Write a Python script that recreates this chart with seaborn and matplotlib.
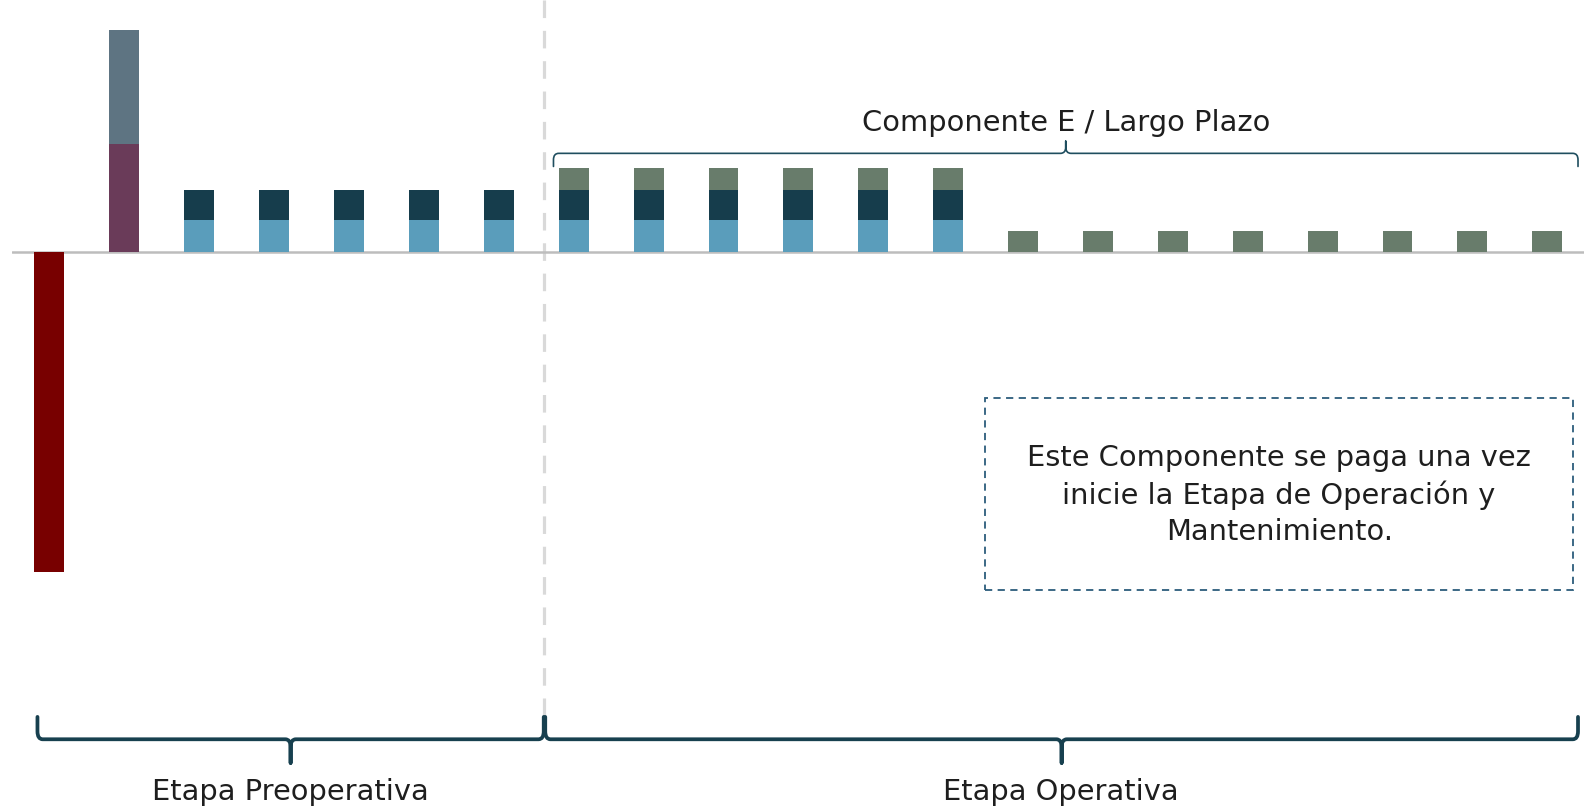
import numpy as np
import matplotlib
matplotlib.use("Agg")
import matplotlib.pyplot as plt
from matplotlib.path import Path
from matplotlib.patches import PathPatch, Rectangle
import seaborn as sns

# periods 0..20
periods = list(range(21))
inversion = [-10.0] + [0] * 20
comp_a = [0, 3.4] + [0] * 19
comp_b = [0, 3.55] + [0] * 19
comp_c = [0, 0] + [1.0] * 11 + [0] * 8
comp_d = [0, 0] + [0.95] * 11 + [0] * 8
comp_e = [0] * 7 + [0.7] * 6 + [0.66] * 8

c_red = "#780000"
c_purple = "#6A3B59"
c_slate = "#5E7482"
c_light = "#5A9DBB"
c_navy = "#163D4C"
c_green = "#687C6B"
c_text = "#1E1E1E"

sns.set_style("white")
plt.rcParams["font.family"] = ["DejaVu Sans"]

fig = plt.figure(figsize=(15.84, 8.07), dpi=100)
ax = fig.add_axes([12 / 1584, 0, 1572 / 1584, 1])

a = np.array(comp_a)
b = np.array(comp_b)
c = np.array(comp_c)
d = np.array(comp_d)
e = np.array(comp_e)

# stacked: draw cumulative totals from the top layer down
layers = [
    (a + b, c_slate),
    (a, c_purple),
    (c + d + e, c_green),
    (c + d, c_navy),
    (c, c_light),
    (np.array(inversion), c_red),
]
for vals, col in layers:
    sns.barplot(x=periods, y=vals, color=col, saturation=1, width=0.4,
                linewidth=0, errorbar=None, ax=ax)

ax.axhline(0, color="#BDBDBD", lw=1.8, zorder=0.5)
ax.plot([6.6, 6.6], [7.9, -14.48], color="#D9D9D9", lw=2.3,
        dashes=(5.5, 4), zorder=0.4)

ax.set_xlim(-0.5, 20.49)
ax.set_ylim(-17.36, 7.9)
ax.axis("off")


def brace(x0, x1, y, end, tip, lw, color, rx=0.07, ry=0.25):
    xm = (x0 + x1) / 2
    s = 1 if end > y else -1
    verts = [(x0, end), (x0, y + s * ry), (x0, y), (x0 + rx, y),
             (xm - rx, y), (xm, y), (xm, y - s * ry), (xm, tip),
             (xm, y - s * ry), (xm, y), (xm + rx, y),
             (x1 - rx, y), (x1, y), (x1, y + s * ry), (x1, end)]
    codes = [Path.MOVETO, Path.LINETO, Path.CURVE3, Path.CURVE3,
             Path.LINETO, Path.CURVE3, Path.CURVE3, Path.LINETO,
             Path.LINETO, Path.CURVE3, Path.CURVE3,
             Path.LINETO, Path.CURVE3, Path.CURVE3, Path.LINETO]
    ax.add_patch(PathPatch(Path(verts, codes), fill=False, lw=lw,
                           edgecolor=color, capstyle="round",
                           joinstyle="round", zorder=3))


brace(-0.16, 6.6, -15.24, -14.54, -15.98, 2.7, "#17404F")
brace(6.62, 20.41, -15.24, -14.54, -15.98, 2.7, "#17404F")
brace(6.73, 20.41, 3.10, 2.69, 3.48, 1.2, "#1F4E5F", ry=0.2)

fs = 20.8
ax.text(3.22, -16.88, "Etapa Preoperativa", ha="center", va="center",
        fontsize=fs, color=c_text)
ax.text(13.5, -16.88, "Etapa Operativa", ha="center", va="center",
        fontsize=fs, color=c_text)
ax.text(13.57, 4.05, "Componente E / Largo Plazo", ha="center",
        va="center", fontsize=fs, color=c_text)

ax.add_patch(Rectangle((12.49, -10.56), 20.34 - 12.49, 10.56 - 4.55,
                       fill=False, edgecolor="#2C5D7C", lw=1.3,
                       linestyle=(0, (4, 3)), zorder=3))
ax.text(16.42, -7.59,
        "Este Componente se paga una vez\ninicie la Etapa de Operación y\nMantenimiento.",
        ha="center", va="center", fontsize=fs, color=c_text,
        linespacing=1.36)

fig.savefig("out.png", dpi=100)
